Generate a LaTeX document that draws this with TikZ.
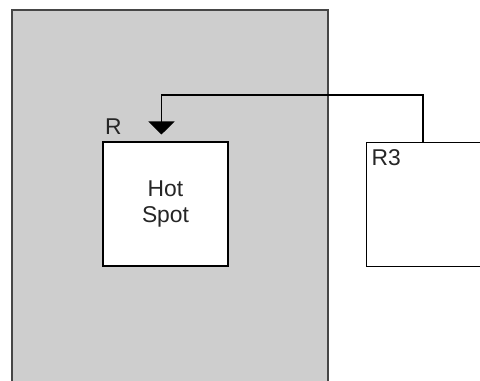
\documentclass[tikz,border=0pt]{standalone}
\usepackage{fontspec}
\setmainfont{Liberation Sans}
\usetikzlibrary{arrows.meta, calc}

\definecolor{fondo}{RGB}{206,206,206}
\definecolor{borde}{RGB}{70,70,70}

\begin{document}
\begin{tikzpicture}[x=0.02cm, y=-0.02cm, >={Triangle[length=2.6mm, width=5.2mm]}, line width=0.6pt,
  caja/.style={draw, fill=white, minimum width=2.5cm, minimum height=2.48cm, inner sep=0pt},
  texto/.style={font=\fontsize{13}{14.5}\selectfont, text=black!85}]
  \clip (0,0) rectangle (480,380);
  % zona gris
  \filldraw[fill=fondo, draw=borde] (12,10) rectangle (328,400);
  \node[caja, texto, align=center] (hot) at (165.5,204) {Hot\\Spot};
  \node[caja, anchor=north west] (r3) at (366,142) {};
  \node[texto, anchor=base west, inner sep=0pt] (etiqR) at ($(hot.north west)+(2,-7)$) {R};
  \node[texto, anchor=base west, inner sep=0pt] (etiqR3) at ($(r3.north west)+(5,23)$) {R3};
  % conexion entre cajas
  \coordinate (punta) at ($(hot.north west)+(59,-7)$);
  \draw[->] ($(r3.north west)+(57,0)$) -- ++(0,-47) -| (punta);
\end{tikzpicture}
\end{document}
